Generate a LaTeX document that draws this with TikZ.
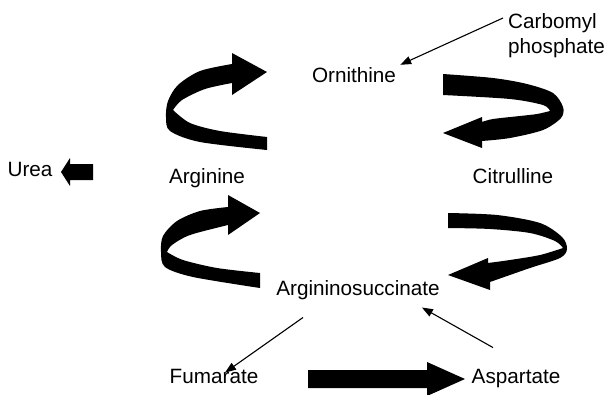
\documentclass[tikz,border=0pt]{standalone}
\usepackage{fontspec}
\setmainfont{Liberation Sans}
\usetikzlibrary{arrows.meta}
\begin{document}
\begin{tikzpicture}[x=1pt,y=-1pt,
  lbl/.style={inner sep=0pt, anchor=base, font=\fontsize{20.7}{25}\selectfont, text=black},
  thinarrow/.style={line width=1.1pt, -{Triangle[length=11pt,width=8pt]}},
  band/.style={fill=black}]
\useasboundingbox (0,0) rectangle (610,394);

% labels
\node[lbl] (orn) at (354,82) {Ornithine};
\node[lbl] (arg) at (207,183) {Arginine};
\node[lbl] (cit) at (513,183) {Citrulline};
\node[lbl] (as) at (358,295) {Argininosuccinate};
\node[lbl] (fum) at (214,383) {Fumarate};
\node[lbl] (asp) at (516,383) {Aspartate};
\node[lbl] (urea) at (30,176) {Urea};
\node[lbl, anchor=north west, align=left] (carb) at (508,13) {Carbomyl\\phosphate};

% top-left curved arrow
\fill[band] plot[smooth] coordinates {(232,64) (200,71) (178,85) (168,101) (166,117) (170,131) (200,142) (267,150)}
 -- (267,137)
 -- plot[smooth] coordinates {(267,137) (220,131) (190,123) (173,110)}
 -- plot[smooth] coordinates {(173,110) (182,100) (205,89) (232,83)}
 -- (232,95) -- (267,72) -- (232,53) -- cycle;

% bottom-left curved arrow
\fill[band] plot[smooth] coordinates {(228,207) (200,211) (177,221) (163,236) (161,252) (165,267) (193,277) (260,288)}
 -- (260,273)
 -- plot[smooth] coordinates {(260,273) (217,268) (183,260) (167,252)}
 -- plot[smooth] coordinates {(167,252) (172,245) (190,235) (228,225)}
 -- (228,235) -- (260,213) -- (228,195) -- cycle;

% top-right curved arrow
\fill[band] plot[smooth] coordinates {(443,74) (493,78) (527,84) (553,93) (563,107) (561,118) (543,130) (510,138) (482,141)}
 -- (482,148) -- (443,133) -- (482,117) -- (482,122)
 -- plot[smooth] coordinates {(482,122) (493,119) (520,116) (537,114) (550,111)}
 -- plot[smooth] coordinates {(550,111) (543,105) (510,99) (443,95)}
 -- cycle;

% bottom-right curved arrow
\fill[band] plot[smooth] coordinates {(448,213) (497,215) (540,223) (562,237) (567,249) (560,258) (530,268) (490,282)}
 -- (490,290) -- (448,275) -- (488,258) -- (488,263)
 -- plot[smooth] coordinates {(488,263) (510,260) (540,255) (563,248)}
 -- plot[smooth] coordinates {(563,248) (555,241) (530,233) (490,229) (448,228)}
 -- cycle;

% urea block arrow
\fill[band] (61,172) -- (70,158) -- (70,164) -- (93,164) -- (93,180) -- (70,180) -- (70,186) -- cycle;

% fumarate -> aspartate block arrow
\fill[band] (308,370) -- (427,370) -- (427,362) -- (465,379) -- (427,396) -- (427,388) -- (308,388) -- cycle;

% thin arrows
\draw[thinarrow] ([shift={(-5,5)}]carb.north west) -- ([shift={(4,-2)}]orn.north east);
\draw[thinarrow] ([shift={(-55,18)}]as.south) -- ([shift={(11,4)}]fum.north);
\draw[thinarrow] ([shift={(-23,-21)}]asp.north) -- ([shift={(-18,8)}]as.south east);
\end{tikzpicture}
\end{document}
